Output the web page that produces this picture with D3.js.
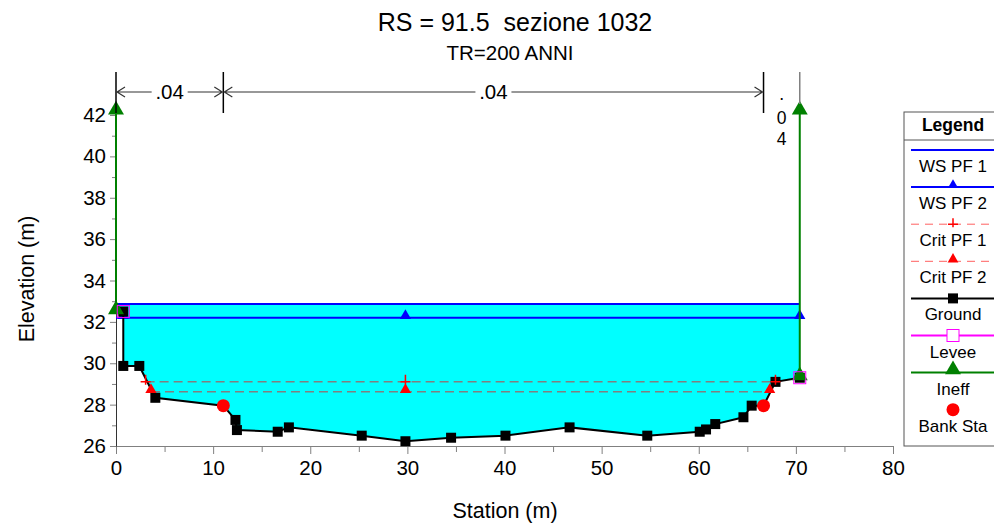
<!DOCTYPE html>
<html>
<head>
<meta charset="utf-8">
<script src="https://cdn.jsdelivr.net/npm/d3@7"></script>
<style>
  body { margin: 0; background: #fff; }
  svg { display: block; font-family: "Liberation Sans", Arial, sans-serif; }
  text { white-space: pre; }
</style>
</head>
<body>
<svg width="994" height="528"></svg>
<script>
// ground profile
const groundSta = [0, 0.75, 0.75, 2.4, 4.05, 11.05, 12.3, 12.45, 16.65, 17.8, 25.3, 29.8, 34.5, 40.1, 46.7, 54.7, 60.1, 60.75, 61.7, 64.6, 65.45, 66.67, 67.9, 70.4];
const groundElev = [32.5, 32.5, 29.87, 29.87, 28.33, 27.95, 27.26, 26.77, 26.69, 26.9, 26.5, 26.23, 26.4, 26.5, 26.9, 26.5, 26.69, 26.8, 27.06, 27.39, 27.95, 27.95, 29.1, 29.3];
const groundMarkSta = [0.75, 0.75, 2.4, 4.05, 12.3, 12.45, 16.65, 17.8, 25.3, 29.8, 34.5, 40.1, 46.7, 54.7, 60.1, 60.75, 61.7, 64.6, 65.45, 67.9, 70.4];
const groundMarkElev = [32.5, 29.87, 29.87, 28.33, 27.26, 26.77, 26.69, 26.9, 26.5, 26.23, 26.4, 26.5, 26.9, 26.5, 26.69, 26.8, 27.06, 27.39, 27.95, 29.1, 29.3];

// water surfaces
const wsPF1 = { elev: 32.86, from: 0, to: 70.4 };
const wsPF2 = { elev: 32.2, from: 0, to: 70.4, marks: [0.75, 29.8, 70.4] };
const critPF1 = { elev: 29.1, from: 3.05, to: 67.9, marks: [3.05, 29.8, 67.9] };
const critPF2 = { elev: 28.62, from: 3.6, to: 67.3, marks: [3.6, 29.8, 67.3] };

const bankSta = [11.05, 66.67];
const bankElev = [27.95, 27.95];
const leveeSta = [0.75, 70.4];
const leveeElev = [32.5, 29.3];
const ineffSta = [0, 70.4];
const ineffLow = [32.5, 29.3];
const ineffHigh = 42.15;

const nSta = [0, 11.05, 66.67, 70.4];
const nVal = [".04", ".04", ".04"];

const xTicks = [0, 10, 20, 30, 40, 50, 60, 70, 80];
const yTicks = [26, 28, 30, 32, 34, 36, 38, 40, 42];

const legendItems = ["WS PF 1", "WS PF 2", "Crit PF 1", "Crit PF 2", "Ground", "Levee", "Ineff", "Bank Sta"];

const svg = d3.select("svg");
const x = d3.scaleLinear().domain([0, 80]).range([116, 893]);
const y = d3.scaleLinear().domain([26, 42]).range([446, 115]);

// water fill
const fillPts = [[wsPF1.from, wsPF1.elev]]
  .concat(groundSta.map((s, i) => [s, groundElev[i]]))
  .concat([[wsPF1.to, wsPF1.elev]]);
svg.append("path")
  .attr("d", d3.line().x(d => x(d[0])).y(d => y(d[1]))(fillPts) + "Z")
  .attr("fill", "#00ffff");

// axes
const axisColor = "#808080";
const xAxis = svg.append("g").attr("transform", `translate(0,${y(26)})`)
  .call(d3.axisBottom(x).tickValues(xTicks).tickSize(8).tickSizeOuter(0).tickPadding(6));
const xMinor = svg.append("g").attr("transform", `translate(0,${y(26)})`)
  .call(d3.axisBottom(x).tickValues(d3.range(5, 80, 10)).tickSize(6).tickFormat(""));
const yAxis = svg.append("g").attr("transform", `translate(${x(0)},0)`)
  .call(d3.axisLeft(y).tickValues(yTicks).tickSize(6).tickSizeOuter(0).tickPadding(4));
const yMinor = svg.append("g").attr("transform", `translate(${x(0)},0)`)
  .call(d3.axisLeft(y).tickValues(d3.range(27, 42, 2)).tickSize(4).tickFormat(""));
[xMinor, yMinor].forEach(g => g.select(".domain").remove());
[xAxis, xMinor, yAxis, yMinor].forEach(g => {
  g.selectAll("path, line").attr("stroke", axisColor);
  g.selectAll("text").attr("font-size", 20.5).attr("fill", "#000")
    .attr("font-family", "Liberation Sans, Arial, sans-serif");
});
yAxis.select(".domain").attr("stroke", "#333");

// crit lines
[critPF1, critPF2].forEach(c => {
  svg.append("line")
    .attr("x1", x(c.from)).attr("x2", x(c.to))
    .attr("y1", y(c.elev)).attr("y2", y(c.elev))
    .attr("stroke", "#808080").attr("stroke-width", 1.5).attr("stroke-dasharray", "9,5");
});

// WS lines
[wsPF1, wsPF2].forEach(w => {
  svg.append("line")
    .attr("x1", x(w.from)).attr("x2", x(w.to))
    .attr("y1", y(w.elev)).attr("y2", y(w.elev))
    .attr("stroke", "#0000ff").attr("stroke-width", 2);
});

const tri = d3.symbol().type(d3.symbolTriangle);

svg.selectAll(".wsmark").data(wsPF2.marks).join("path")
  .attr("transform", d => `translate(${x(d)},${y(wsPF2.elev) - 2})`)
  .attr("d", tri.size(55)()).attr("fill", "#0000ff");

// ground
svg.append("path")
  .attr("d", d3.line().x((d, i) => x(d)).y((d, i) => y(groundElev[i]))(groundSta))
  .attr("fill", "none").attr("stroke", "#000").attr("stroke-width", 2);
svg.selectAll(".gmark").data(groundMarkSta).join("rect")
  .attr("x", d => x(d) - 5).attr("y", (d, i) => y(groundMarkElev[i]) - 5)
  .attr("width", 10).attr("height", 10).attr("fill", "#000");

// crit markers
svg.selectAll(".c1mark").data(critPF1.marks).join("path")
  .attr("d", d => `M${x(d) - 5},${y(critPF1.elev)}H${x(d) + 5}M${x(d)},${y(critPF1.elev) - 7}V${y(critPF1.elev) + 3}`)
  .attr("stroke", "#ff0000").attr("stroke-width", 1.5);
svg.selectAll(".c2mark").data(critPF2.marks).join("path")
  .attr("transform", d => `translate(${x(d)},${y(critPF2.elev) - 2})`)
  .attr("d", tri.size(55)()).attr("fill", "#ff0000");

// bank stations
svg.selectAll(".bank").data(bankSta).join("circle")
  .attr("cx", d => x(d)).attr("cy", (d, i) => y(bankElev[i])).attr("r", 6.5).attr("fill", "#ff0000");

// ineffective flow
ineffSta.forEach((s, i) => {
  svg.append("line")
    .attr("x1", x(s)).attr("x2", x(s)).attr("y1", y(ineffLow[i])).attr("y2", y(ineffHigh))
    .attr("stroke", "#008000").attr("stroke-width", 2);
  [ineffLow[i], ineffHigh].forEach(e => {
    svg.append("path").attr("transform", `translate(${x(s)},${y(e) - 2})`)
      .attr("d", tri.size(110)()).attr("fill", "#008000");
  });
});

// levees
svg.selectAll(".levee").data(leveeSta).join("rect")
  .attr("x", d => x(d) - 6).attr("y", (d, i) => y(leveeElev[i]) - 6)
  .attr("width", 12).attr("height", 12).attr("fill", "none").attr("stroke", "#ff00ff").attr("stroke-width", 1);

// manning's n
const nTop = 72, nBot = 113, nY = 92;
nSta.forEach((s, i) => {
  svg.append("line").attr("x1", x(s)).attr("x2", x(s)).attr("y1", nTop).attr("y2", i === 3 ? y(ineffHigh) - 8 : nBot)
    .attr("stroke", i === 3 ? "#808080" : "#000").attr("stroke-width", 1.5);
});
nVal.forEach((v, i) => {
  const x0 = x(nSta[i]), x1 = x(nSta[i + 1]), xm = (x0 + x1) / 2;
  if (x1 - x0 > 60) {
    const half = 18;
    svg.append("path")
      .attr("d", `M${x0},${nY}H${xm - half}M${xm + half},${nY}H${x1}` +
        `M${x0 + 9},${nY - 5}L${x0 + 1},${nY}L${x0 + 9},${nY + 5}` +
        `M${x1 - 9},${nY - 5}L${x1 - 1},${nY}L${x1 - 9},${nY + 5}`)
      .attr("fill", "none").attr("stroke", "#333").attr("stroke-width", 1.2);
    svg.append("text").attr("x", xm).attr("y", nY + 7).attr("text-anchor", "middle")
      .attr("font-size", 20.5).text(v);
  } else {
    // too narrow: stack the characters vertically
    v.split("").forEach((ch, k) => {
      svg.append("text").attr("x", xm).attr("y", k === 0 ? 100 : 103 + k * 21)
        .attr("text-anchor", "middle").attr("font-size", 17.5).text(ch);
    });
  }
});

// titles
svg.append("text").attr("x", 515).attr("y", 31).attr("text-anchor", "middle")
  .attr("font-size", 25).text("RS = 91.5  sezione 1032");
svg.append("text").attr("x", 510).attr("y", 60).attr("text-anchor", "middle")
  .attr("font-size", 20.5).text("TR=200 ANNI");
svg.append("text").attr("x", 505).attr("y", 518).attr("text-anchor", "middle")
  .attr("font-size", 21.5).text("Station (m)");
svg.append("text").attr("transform", "translate(34,279) rotate(-90)").attr("text-anchor", "middle")
  .attr("font-size", 21.5).text("Elevation (m)");

// legend
const lg = svg.append("g");
lg.append("rect").attr("x", 904).attr("y", 112).attr("width", 120).attr("height", 334)
  .attr("fill", "#fff").attr("stroke", "#555");
lg.append("line").attr("x1", 904).attr("x2", 994).attr("y1", 140).attr("y2", 140).attr("stroke", "#555");
lg.append("text").attr("x", 953).attr("y", 131).attr("text-anchor", "middle")
  .attr("font-size", 17.5).attr("font-weight", "bold").text("Legend");
const lx0 = 911, lx1 = 994, lc = 953;
legendItems.forEach((name, i) => {
  const ly = 150 + i * 37.1;
  const g = lg.append("g");
  if (name === "WS PF 1" || name === "WS PF 2") {
    g.append("line").attr("x1", lx0).attr("x2", lx1).attr("y1", ly).attr("y2", ly).attr("stroke", "#0000ff").attr("stroke-width", 2);
    if (name === "WS PF 2") g.append("path").attr("transform", `translate(${lc},${ly - 2})`).attr("d", tri.size(45)()).attr("fill", "#0000ff");
  } else if (name.startsWith("Crit")) {
    g.append("line").attr("x1", lx0).attr("x2", lx1).attr("y1", ly).attr("y2", ly)
      .attr("stroke", "#ff6060").attr("stroke-width", 1).attr("stroke-dasharray", "8,6");
    if (name === "Crit PF 1") g.append("path").attr("d", `M${lc - 5},${ly}H${lc + 5}M${lc},${ly - 6}V${ly + 3}`).attr("stroke", "#ff0000").attr("stroke-width", 1.5);
    else g.append("path").attr("transform", `translate(${lc},${ly - 2})`).attr("d", tri.size(50)()).attr("fill", "#ff0000");
  } else if (name === "Ground") {
    g.append("line").attr("x1", lx0).attr("x2", lx1).attr("y1", ly).attr("y2", ly).attr("stroke", "#000").attr("stroke-width", 2);
    g.append("rect").attr("x", lc - 5).attr("y", ly - 5).attr("width", 10).attr("height", 10).attr("fill", "#000");
  } else if (name === "Levee") {
    g.append("line").attr("x1", lx0).attr("x2", lx1).attr("y1", ly).attr("y2", ly).attr("stroke", "#ff00ff").attr("stroke-width", 2);
    g.append("rect").attr("x", lc - 6).attr("y", ly - 6).attr("width", 12).attr("height", 12).attr("fill", "#fff").attr("stroke", "#ff00ff");
  } else if (name === "Ineff") {
    g.append("line").attr("x1", lx0).attr("x2", lx1).attr("y1", ly).attr("y2", ly).attr("stroke", "#008000").attr("stroke-width", 2);
    g.append("path").attr("transform", `translate(${lc},${ly - 3})`).attr("d", tri.size(110)()).attr("fill", "#008000");
  } else {
    g.append("circle").attr("cx", lc).attr("cy", ly).attr("r", 6.5).attr("fill", "#ff0000");
  }
  g.append("text").attr("x", lc).attr("y", ly + 22).attr("text-anchor", "middle")
    .attr("font-size", 17).text(name);
});
</script>
</body>
</html>
